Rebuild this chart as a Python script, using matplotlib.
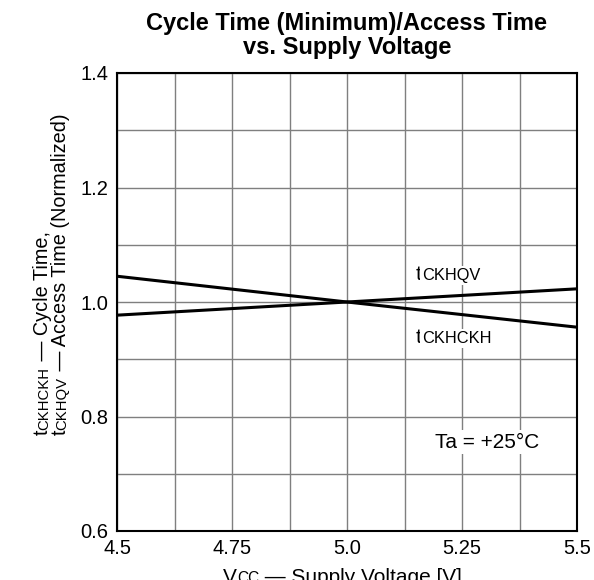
import matplotlib
matplotlib.use("Agg")
import matplotlib.pyplot as plt
import matplotlib.transforms as mtransforms
import numpy as np

plt.rcParams['font.family'] = ['Liberation Sans', 'DejaVu Sans']

# supply voltage [V] and normalized times
vcc = [4.5, 5.0, 5.5]
t_ckhqv = [0.977, 1.0, 1.023]
t_ckhckh = [1.045, 1.0, 0.956]

x_ticks = [4.5, 4.75, 5.0, 5.25, 5.5]
x_tick_labels = ['4.5', '4.75', '5.0', '5.25', '5.5']
y_ticks = [0.6, 0.8, 1.0, 1.2, 1.4]
y_tick_labels = ['0.6', '0.8', '1.0', '1.2', '1.4']
x_minor = [4.625, 4.875, 5.125, 5.375]
y_minor = [0.7, 0.9, 1.1, 1.3]

title = 'Cycle Time (Minimum)/Access Time\nvs. Supply Voltage'
temp_note = 'Ta = +25°C'

fig = plt.figure(figsize=(5.94, 5.80), dpi=100)
ax = fig.add_axes([117 / 594, 1 - 531 / 580, 460 / 594, 458 / 580])
renderer = fig.canvas.get_renderer()


def chain_text(parts, xy, transform, rotation=0, bg=None):
    """Draw text pieces on one baseline, each piece with its own size."""
    shift = 0
    for txt, size in parts:
        if rotation == 90:
            tr = mtransforms.offset_copy(transform, fig=fig, x=0, y=shift, units='dots')
        else:
            tr = mtransforms.offset_copy(transform, fig=fig, x=shift, y=0, units='dots')
        kw = dict(fontsize=size, rotation=rotation, rotation_mode='anchor',
                  ha='left', va='baseline', transform=tr, clip_on=False)
        if bg:
            kw['bbox'] = dict(facecolor=bg, edgecolor='none', pad=1.5)
        t = ax.text(xy[0], xy[1], txt, **kw)
        bb = t.get_window_extent(renderer)
        shift += bb.height if rotation == 90 else bb.width


ax.plot(vcc, t_ckhqv, color='black', lw=2.2, zorder=3)
ax.plot(vcc, t_ckhckh, color='black', lw=2.2, zorder=3)

ax.set_xlim(4.5, 5.5)
ax.set_ylim(0.6, 1.4)
ax.set_xticks(x_ticks)
ax.set_xticklabels(x_tick_labels, fontsize=14.5)
ax.set_yticks(y_ticks)
ax.set_yticklabels(y_tick_labels, fontsize=14.5)
ax.set_xticks(x_minor, minor=True)
ax.set_yticks(y_minor, minor=True)
ax.tick_params(which='both', length=0, pad=6)
ax.grid(which='both', color='#7f7f7f', lw=1.0, zorder=0)
for s in ax.spines.values():
    s.set_linewidth(1.5)

ax.set_title(title, fontsize=17, fontweight='bold', pad=14, linespacing=1.05)

# curve labels
chain_text([('t', 15), ('CKHQV', 11.8)], (5.15, 1.039), ax.transData, bg='white')
chain_text([('t', 15), ('CKHCKH', 11.8)], (5.15, 0.929), ax.transData, bg='white')
ax.text(5.304, 0.755, temp_note, fontsize=15, ha='center', va='center',
        bbox=dict(facecolor='white', edgecolor='none', pad=2))

# axis labels (figure pixel positions)
pix = mtransforms.IdentityTransform()
chain_text([('t', 14.3), ('CKHCKH', 10.7), (' — Cycle Time,', 14.3)],
           (48, 145), pix, rotation=90)
chain_text([('t', 14.3), ('CKHQV', 10.7), (' — Access Time (Normalized)', 14.3)],
           (66, 145), pix, rotation=90)
chain_text([('V', 15), ('CC', 11.2), (' — Supply Voltage [V]', 15)],
           (223, -3), pix)

fig.savefig('out.png', dpi=100)
